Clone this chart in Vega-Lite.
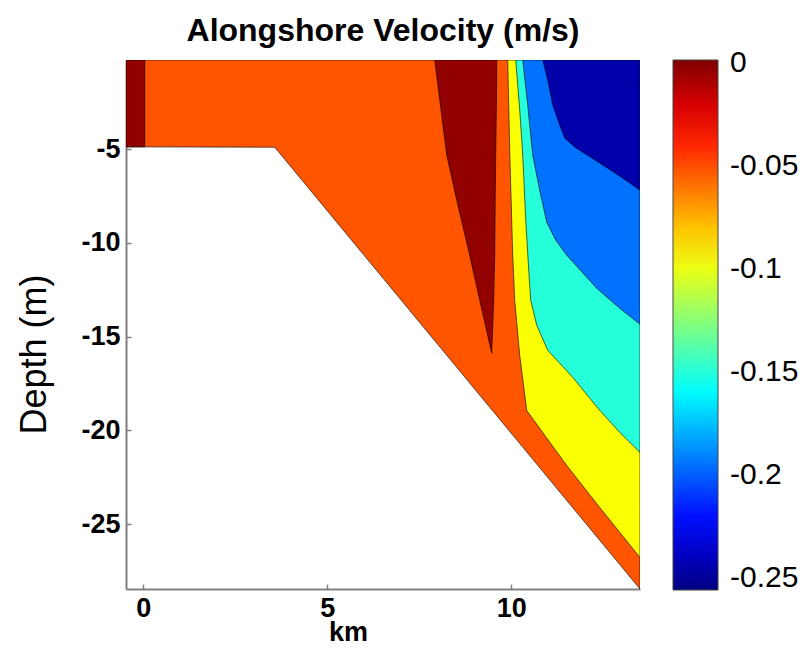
{
  "$schema": "https://vega.github.io/schema/vega-lite/v6.json",
  "width": 514,
  "height": 529,
  "autosize": {"type": "none"},
  "padding": {"left": 126, "top": 60, "right": 166, "bottom": 66},
  "background": "white",
  "title": {"text": "Alongshore Velocity (m/s)", "fontSize": 32, "font": "Liberation Sans", "fontWeight": "bold", "color": "black", "anchor": "middle", "offset": 12},
  "config": {"view": {"stroke": null}},
  "data": {"values": [
    {"region": "a_water", "d": -0.25, "x": -0.47, "x2": 13.5, "v": -0.052},
    {"region": "a_water", "d": -4.88, "x": -0.47, "x2": 13.5, "v": -0.052},
    {"region": "a_water", "d": -4.9, "x": 3.573, "x2": 13.5, "v": -0.052},
    {"region": "a_water", "d": -28.45, "x": 13.5, "x2": 13.5, "v": -0.052},
    {"region": "b_strip", "d": -0.25, "x": -0.47, "x2": 0.04, "v": -0.003},
    {"region": "b_strip", "d": -4.88, "x": -0.47, "x2": 0.04, "v": -0.003},
    {"region": "c_wedge", "d": -0.25, "x": 7.921, "x2": 9.606, "v": -0.003},
    {"region": "c_wedge", "d": -2.384, "x": 8.057, "x2": 9.6, "v": -0.003},
    {"region": "c_wedge", "d": -5.319, "x": 8.247, "x2": 9.579, "v": -0.003},
    {"region": "c_wedge", "d": -7.721, "x": 8.519, "x2": 9.565, "v": -0.003},
    {"region": "c_wedge", "d": -10.656, "x": 8.872, "x2": 9.552, "v": -0.003},
    {"region": "c_wedge", "d": -13.057, "x": 9.144, "x2": 9.524, "v": -0.003},
    {"region": "c_wedge", "d": -15.885, "x": 9.47, "x2": 9.47, "v": -0.003},
    {"region": "d_yellow", "d": -0.25, "x": 9.905, "x2": 13.5, "v": -0.096},
    {"region": "d_yellow", "d": -5.053, "x": 9.959, "x2": 13.5, "v": -0.096},
    {"region": "d_yellow", "d": -10.656, "x": 10.041, "x2": 13.5, "v": -0.096},
    {"region": "d_yellow", "d": -13.057, "x": 10.095, "x2": 13.5, "v": -0.096},
    {"region": "d_yellow", "d": -15.992, "x": 10.231, "x2": 13.5, "v": -0.096},
    {"region": "d_yellow", "d": -18.927, "x": 10.421, "x2": 13.5, "v": -0.096},
    {"region": "d_yellow", "d": -20.26, "x": 10.91, "x2": 13.5, "v": -0.096},
    {"region": "d_yellow", "d": -21.861, "x": 11.508, "x2": 13.5, "v": -0.096},
    {"region": "d_yellow", "d": -24.103, "x": 12.405, "x2": 13.5, "v": -0.096},
    {"region": "d_yellow", "d": -26.771, "x": 13.5, "x2": 13.5, "v": -0.096},
    {"region": "e_cyan", "d": -0.25, "x": 10.122, "x2": 13.5, "v": -0.15},
    {"region": "e_cyan", "d": -2.918, "x": 10.231, "x2": 13.5, "v": -0.15},
    {"region": "e_cyan", "d": -5.319, "x": 10.313, "x2": 13.5, "v": -0.15},
    {"region": "e_cyan", "d": -8.788, "x": 10.394, "x2": 13.5, "v": -0.15},
    {"region": "e_cyan", "d": -11.456, "x": 10.476, "x2": 13.5, "v": -0.15},
    {"region": "e_cyan", "d": -13.057, "x": 10.53, "x2": 13.5, "v": -0.15},
    {"region": "e_cyan", "d": -14.391, "x": 10.693, "x2": 13.5, "v": -0.15},
    {"region": "e_cyan", "d": -15.725, "x": 10.992, "x2": 13.5, "v": -0.15},
    {"region": "e_cyan", "d": -17.166, "x": 11.671, "x2": 13.5, "v": -0.15},
    {"region": "e_cyan", "d": -18.927, "x": 12.405, "x2": 13.5, "v": -0.15},
    {"region": "e_cyan", "d": -20.1, "x": 12.948, "x2": 13.5, "v": -0.15},
    {"region": "e_cyan", "d": -21.168, "x": 13.5, "x2": 13.5, "v": -0.15},
    {"region": "f_blue", "d": -0.25, "x": 10.313, "x2": 13.5, "v": -0.195},
    {"region": "f_blue", "d": -2.651, "x": 10.448, "x2": 13.5, "v": -0.195},
    {"region": "f_blue", "d": -5.319, "x": 10.584, "x2": 13.5, "v": -0.195},
    {"region": "f_blue", "d": -7.187, "x": 10.774, "x2": 13.5, "v": -0.195},
    {"region": "f_blue", "d": -8.895, "x": 10.965, "x2": 13.5, "v": -0.195},
    {"region": "f_blue", "d": -9.855, "x": 11.209, "x2": 13.5, "v": -0.195},
    {"region": "f_blue", "d": -10.656, "x": 11.508, "x2": 13.5, "v": -0.195},
    {"region": "f_blue", "d": -12.417, "x": 12.323, "x2": 13.5, "v": -0.195},
    {"region": "f_blue", "d": -13.484, "x": 12.948, "x2": 13.5, "v": -0.195},
    {"region": "f_blue", "d": -14.338, "x": 13.5, "x2": 13.5, "v": -0.195},
    {"region": "g_navy", "d": -0.25, "x": 10.856, "x2": 13.5, "v": -0.245},
    {"region": "g_navy", "d": -1.317, "x": 10.992, "x2": 13.5, "v": -0.245},
    {"region": "g_navy", "d": -2.651, "x": 11.128, "x2": 13.5, "v": -0.245},
    {"region": "g_navy", "d": -3.719, "x": 11.318, "x2": 13.5, "v": -0.245},
    {"region": "g_navy", "d": -4.412, "x": 11.454, "x2": 13.5, "v": -0.245},
    {"region": "g_navy", "d": -4.892, "x": 11.726, "x2": 13.5, "v": -0.245},
    {"region": "g_navy", "d": -5.746, "x": 12.405, "x2": 13.5, "v": -0.245},
    {"region": "g_navy", "d": -6.44, "x": 12.948, "x2": 13.5, "v": -0.245},
    {"region": "g_navy", "d": -7.187, "x": 13.5, "x2": 13.5, "v": -0.245}
  ]},
  "mark": {"type": "area", "orient": "horizontal", "clip": true, "stroke": "#000000", "strokeWidth": 1, "strokeOpacity": 0.6, "fillOpacity": 1},
  "encoding": {
    "y": {
      "field": "d", "type": "quantitative",
      "scale": {"domain": [-28.45, -0.25], "nice": false, "zero": false},
      "axis": {
        "title": "Depth (m)", "values": [-25, -20, -15, -10, -5], "grid": false,
        "labelFont": "Liberation Sans", "labelFontSize": 27, "labelFontWeight": "bold", "labelColor": "black",
        "labelExpr": "replace(datum.label, '\u2212', '-')",
        "labelPadding": 11, "tickSize": -5, "tickColor": "#808080", "tickWidth": 1.5,
        "domainColor": "#808080", "domainWidth": 2,
        "titleFont": "Liberation Sans", "titleFontSize": 36, "titleFontWeight": "normal", "titleColor": "black",
        "titleX": -92, "titleY": 294, "titleBaseline": "middle", "titleAngle": -90
      }
    },
    "x": {
      "field": "x", "type": "quantitative", "stack": null,
      "scale": {"domain": [-0.47, 13.5], "nice": false, "zero": false},
      "axis": {
        "title": "km", "values": [0, 5, 10], "grid": false,
        "labelFont": "Liberation Sans", "labelFontSize": 27, "labelFontWeight": "bold", "labelColor": "black",
        "labelPadding": 11, "tickSize": -5, "tickColor": "#808080", "tickWidth": 1.5,
        "domainColor": "#808080", "domainWidth": 2,
        "titleFont": "Liberation Sans", "titleFontSize": 27, "titleFontWeight": "bold", "titleColor": "black",
        "titleX": 222, "titleY": 51, "titleBaseline": "alphabetic"
      }
    },
    "x2": {"field": "x2"},
    "detail": {"field": "region"},
    "fill": {
      "field": "v", "type": "quantitative",
      "scale": {
        "domain": [-0.256, -0.2237, -0.1593, -0.0949, -0.0305, 0.0017],
        "range": ["#000080", "#0000ff", "#00ffff", "#ffff00", "#ff0000", "#800000"],
        "interpolate": "rgb"
      },
      "legend": {
        "orient": "none", "legendX": 547, "legendY": 0, "direction": "vertical",
        "gradientLength": 530, "gradientThickness": 45, "title": null, "padding": 0,
        "values": [0, -0.05, -0.1, -0.15, -0.2, -0.25],
        "format": ".2~f",
        "labelFont": "Liberation Sans", "labelFontSize": 30, "labelColor": "black", "labelOffset": 12,
        "labelBaseline": "middle",
        "labelExpr": "replace(datum.label, '\u2212', '-')",
        "gradientStrokeColor": "#444444", "gradientStrokeWidth": 1
      }
    }
  }
}
